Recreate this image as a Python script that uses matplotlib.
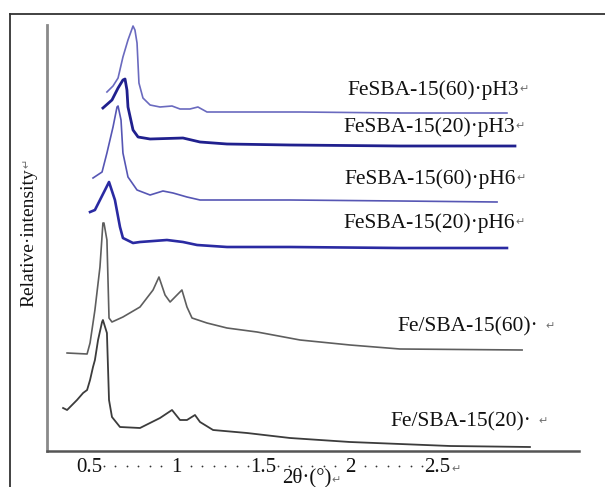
import matplotlib
matplotlib.use("Agg")
import matplotlib.pyplot as plt
from matplotlib.lines import Line2D
from matplotlib.transforms import ScaledTranslation

plt.rcParams['font.family'] = ['Liberation Serif', 'DejaVu Sans']

# 2-theta (deg) and relative intensity (a.u., stacked) for each sample
x_ph3_60 = [0.603, 0.638, 0.667, 0.695, 0.724, 0.753, 0.764, 0.776, 0.787, 0.810, 0.851,
            0.908, 0.977, 1.023, 1.080, 1.126, 1.178, 1.368, 1.713, 2.287, 2.902]
y_ph3_60 = [359, 365, 373, 394, 411, 425, 421, 408, 368, 353, 346,
            344, 345, 342, 342, 344, 339, 339, 339, 338, 338]

x_ph3_20 = [0.580, 0.632, 0.667, 0.695, 0.707, 0.718, 0.724, 0.753, 0.782, 0.851, 1.040,
            1.138, 1.293, 1.655, 2.287, 2.948]
y_ph3_20 = [343, 351, 363, 371, 372, 361, 344, 321, 314, 312, 313,
            309, 307, 306, 305, 305]

x_ph6_60 = [0.523, 0.575, 0.603, 0.638, 0.661, 0.667, 0.684, 0.695, 0.724, 0.776, 0.851,
            0.925, 0.983, 1.063, 1.138, 1.655, 2.287, 2.845]
y_ph6_60 = [273, 279, 298, 324, 344, 345, 331, 298, 274, 261, 256,
            260, 258, 254, 251, 251, 250, 249]

x_ph6_20 = [0.506, 0.534, 0.563, 0.592, 0.615, 0.649, 0.678, 0.695, 0.753, 0.793, 0.948,
            1.040, 1.121, 1.293, 1.655, 2.287, 2.902]
y_ph6_20 = [239, 241, 251, 261, 269, 251, 224, 213, 208, 209, 211,
            209, 206, 204, 204, 203, 203]

x_fe_60 = [0.374, 0.489, 0.506, 0.534, 0.563, 0.580, 0.586, 0.603, 0.615, 0.632, 0.695,
           0.793, 0.868, 0.902, 0.937, 0.966, 1.034, 1.063, 1.092, 1.178, 1.293, 1.466,
           1.713, 2.000, 2.287, 2.989]
y_fe_60 = [98, 97, 108, 141, 184, 228, 228, 211, 133, 129, 134,
           144, 161, 174, 156, 149, 161, 144, 133, 128, 123, 119,
           111, 106, 102, 101]

x_fe_20 = [0.351, 0.374, 0.431, 0.466, 0.489, 0.506, 0.523, 0.534, 0.552, 0.575, 0.580,
           0.603, 0.615, 0.632, 0.678, 0.793, 0.908, 0.977, 1.023, 1.063, 1.109, 1.138,
           1.213, 1.408, 1.655, 2.000, 2.575, 3.034]
y_fe_20 = [43, 41, 51, 58, 61, 71, 84, 91, 111, 129, 131,
           118, 51, 34, 24, 23, 33, 41, 31, 31, 36, 29,
           21, 18, 13, 9, 5, 4]

labels = ["FeSBA-15(60)·pH3", "FeSBA-15(20)·pH3", "FeSBA-15(60)·pH6",
          "FeSBA-15(20)·pH6", "Fe/SBA-15(60)·", "Fe/SBA-15(20)·"]
tick_values = [0.5, 1, 1.5, 2, 2.5]
tick_labels = ["0.5", "1", "1.5", "2", "2.5"]
x_title = "2θ·(°)"
y_title = "Relative·intensity"
RETURN_MARK = "↵"

fig = plt.figure(figsize=(6.05, 4.87), dpi=100)
ax = fig.add_axes([47 / 605, 36 / 487, 532 / 605, 426 / 487])

series = [
    (x_ph3_60, y_ph3_60, "#6a6abf", 1.2),
    (x_ph3_20, y_ph3_20, "#20208e", 2.0),
    (x_ph6_60, y_ph6_60, "#5656b4", 1.2),
    (x_ph6_20, y_ph6_20, "#2a2aa2", 1.9),
    (x_fe_60, y_fe_60, "#5e5e5e", 1.2),
    (x_fe_20, y_fe_20, "#3c3c3c", 1.3),
]
for xs, ys, c, lw in series:
    ax.plot(xs, ys, color=c, lw=lw, solid_joinstyle='round')

# sample names beside the curves
label_pos = [(1.983, 361), (1.960, 324), (1.966, 272), (1.960, 228), (2.270, 124), (2.230, 29)]
mark_gap = [1, 1, 1, 1, 8, 8]
name_texts = []
for (lx, ly), txt in zip(label_pos, labels):
    name_texts.append(ax.text(lx, ly, txt, fontsize=15.5, ha='left', va='center',
                              color='#111111'))

ax.set_xlim(0.2586, 3.316)
ax.set_ylim(0, 426)
ax.set_yticks([])
ax.set_xticks(tick_values)
ax.set_xticklabels(tick_labels)
ax.tick_params(axis='x', length=0, pad=5, labelsize=15, labelcolor='#111111')

# dotted leaders between the tick labels
lead = ax.get_xaxis_transform() + ScaledTranslation(0, -11 / 72, fig.dpi_scale_trans)
step = 0.066
for a, b in zip(tick_values[:-1], tick_values[1:]):
    mid = (a + b) / 2
    xs = [mid + step * (k - 2.5) for k in range(6)]
    ax.plot(xs, [0] * 6, ls='none', marker='o', ms=1.3, mew=0, color='#333333',
            transform=lead, clip_on=False)

for s in ['top', 'right']:
    ax.spines[s].set_visible(False)
ax.spines['left'].set_color('#8a8a8a')
ax.spines['left'].set_linewidth(2)
ax.spines['bottom'].set_color('#555555')
ax.spines['bottom'].set_linewidth(1.8)

ax.set_xlabel(x_title, fontsize=15, va='bottom', color='#111111')
ax.xaxis.set_label_coords((307 - 47) / 532, -(487 - 451) / 426)
ax.set_ylabel(y_title, fontsize=14, va='center', color='#111111')
ax.yaxis.set_label_coords((29 - 47) / 532, (451 - 238) / 426)

# small paragraph marks after the texts
fig.canvas.draw()
renderer = fig.canvas.get_renderer()
W, H = fig.bbox.width, fig.bbox.height


def add_mark(artist, gap, dy=0):
    bb = artist.get_window_extent(renderer)
    fig.text((bb.x1 + gap) / W, (bb.y0 + bb.y1) / 2 / H + dy / H, RETURN_MARK,
             fontsize=8, color='#707070', ha='left', va='center')


for t, g in zip(name_texts, mark_gap):
    add_mark(t, g)
add_mark(ax.get_xticklabels()[-1], 1, dy=-2)
add_mark(ax.xaxis.label, 0, dy=-3)

ybb = ax.yaxis.label.get_window_extent(renderer)
fig.text((ybb.x0 + ybb.x1) / 2 / W - 2 / W, (ybb.y1 + 1) / H, RETURN_MARK, fontsize=8,
         color='#707070', rotation=90, ha='center', va='bottom')

# outer frame of the figure box
fx = 10 / 605
fy = 1 - 14 / 487
fig.add_artist(Line2D([fx, fx], [0, fy], transform=fig.transFigure, color='#333333', lw=1.3))
fig.add_artist(Line2D([fx, 1], [fy, fy], transform=fig.transFigure, color='#333333', lw=1.3))

fig.savefig("out.png", dpi=100)
